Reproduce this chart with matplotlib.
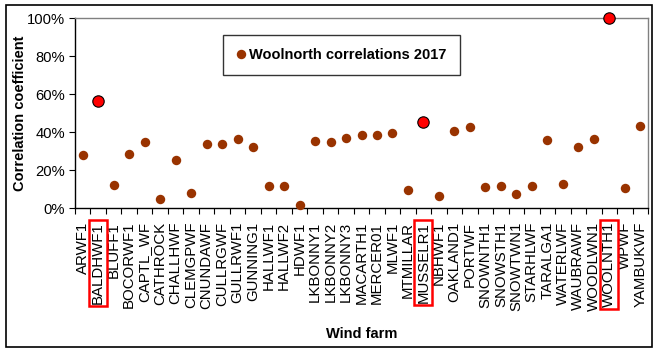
import matplotlib
matplotlib.use("Agg")
import matplotlib.pyplot as plt
from matplotlib.patches import Rectangle
from matplotlib.lines import Line2D

plt.rcParams["font.family"] = ["Liberation Sans", "DejaVu Sans"]

farms = [
    "ARWF1", "BALDHWF1", "BLUFF1", "BOCORWF1", "CAPTL_WF", "CATHROCK",
    "CHALLHWF", "CLEMGPWF", "CNUNDAWF", "CULLRGWF", "GULLRWF1", "GUNNING1",
    "HALLWF1", "HALLWF2", "HDWF1", "LKBONNY1", "LKBONNY2", "LKBONNY3",
    "MACARTH1", "MERCER01", "MLWF1", "MTMILLAR", "MUSSELR1", "NBHWF1",
    "OAKLAND1", "PORTWF", "SNOWNTH1", "SNOWSTH1", "SNOWTWN1", "STARHLWF",
    "TARALGA1", "WATERLWF", "WAUBRAWF", "WOODLWN1", "WOOLNTH1", "WPWF",
    "YAMBUKWF",
]

corr = [
    0.277, 0.563, 0.123, 0.284, 0.347, 0.047,
    0.254, 0.079, 0.339, 0.337, 0.361, 0.319,
    0.116, 0.116, 0.014, 0.351, 0.347, 0.368,
    0.384, 0.384, 0.395, 0.093, 0.451, 0.061,
    0.404, 0.428, 0.109, 0.114, 0.075, 0.118,
    0.356, 0.128, 0.319, 0.365, 1.000, 0.104,
    0.432,
]

highlight = ["BALDHWF1", "MUSSELR1", "WOOLNTH1"]

brown = "#993300"

fig = plt.figure(figsize=(6.6, 3.52), dpi=100)
ax = fig.add_axes([75 / 660, 1 - 208 / 352, 573 / 660, 190 / 352])

x = list(range(len(farms)))
xn = [i for i, f in enumerate(farms) if f not in highlight]
yn = [corr[i] for i in xn]
xh = [i for i, f in enumerate(farms) if f in highlight]
yh = [corr[i] for i in xh]

ax.plot(xn, yn, "o", color=brown, markersize=6.8, markeredgewidth=0,
        clip_on=False, zorder=3)
ax.plot(xh, yh, "o", markerfacecolor="#ff0000", markeredgecolor="black",
        markeredgewidth=0.8, markersize=8.2, clip_on=False, zorder=4)

ax.set_xlim(-0.5, len(farms) - 0.5)
ax.set_ylim(0, 1)

ax.set_xticks(x)
ax.set_xticklabels(farms, rotation=90, fontsize=10.8)
ax.set_xticks([i - 0.5 for i in range(len(farms) + 1)], minor=True)
ax.tick_params(axis="x", which="major", length=0, pad=10)
ax.tick_params(axis="x", which="minor", length=4, width=0.8, direction="out")

ax.set_yticks([0, 0.2, 0.4, 0.6, 0.8, 1.0])
ax.set_yticklabels(["0%", "20%", "40%", "60%", "80%", "100%"], fontsize=10.6)
ax.tick_params(axis="y", length=4, width=0.8, direction="out", pad=3)

for s in ["left", "bottom"]:
    ax.spines[s].set_color("black")
    ax.spines[s].set_linewidth(1.0)
for s in ["top", "right"]:
    ax.spines[s].set_color("#808080")
    ax.spines[s].set_linestyle((0, (1, 1)))
    ax.spines[s].set_linewidth(1.0)

ax.set_xlabel("Wind farm", fontsize=10.5, fontweight="bold")
ax.xaxis.set_label_coords(0.5, -(327 - 208) / 190)
ax.set_ylabel("Correlation coefficient", fontsize=10.5, fontweight="bold")
ax.yaxis.set_label_coords(-(75 - 27) / 573, 0.5)

handle = Line2D([], [], marker="o", linestyle="none", color=brown,
                markersize=6.8, markeredgewidth=0)
leg = ax.legend([handle], ["Woolnorth correlations 2017"],
                loc="upper left", bbox_to_anchor=((223 - 75) / 573, (208 - 35) / 190),
                frameon=True, fancybox=False, handletextpad=0.3,
                borderpad=0.9, handlelength=0.6, borderaxespad=0,
                prop={"weight": "bold", "size": 10.5})
leg.get_frame().set_edgecolor("black")
leg.get_frame().set_linewidth(1.0)

# red boxes round the highlighted tick labels
fig.canvas.draw()
for lab in ax.get_xticklabels():
    if lab.get_text() in highlight:
        bb = lab.get_window_extent()
        fig.patches.append(Rectangle((bb.x0 - 2, bb.y0 - 2), bb.width + 4, bb.height + 4,
                                     transform=None, fill=False,
                                     edgecolor="#ff0000", linewidth=1.8))

fig.patches.append(Rectangle((6 / 660, 1 - 347 / 352), 646 / 660, 342 / 352,
                             transform=fig.transFigure, fill=False,
                             edgecolor="black", linewidth=1.2))

fig.savefig("out.png", dpi=100)
